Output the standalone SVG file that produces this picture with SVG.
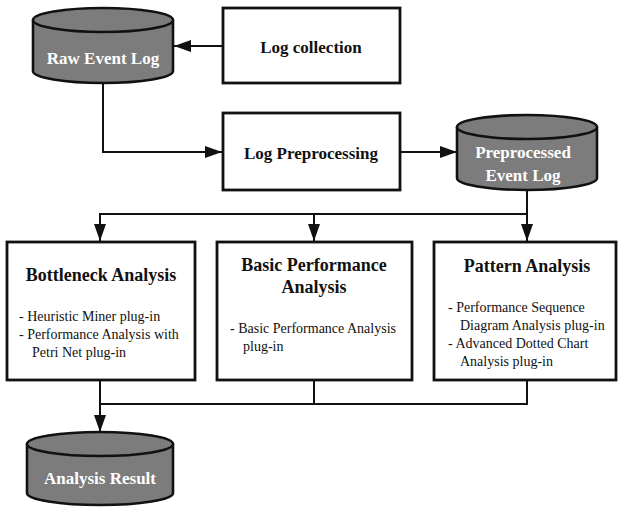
<svg xmlns="http://www.w3.org/2000/svg" width="618" height="507" viewBox="0 0 618 507">
<style>
.box{fill:#fff;stroke:#111;stroke-width:2.8}
.cyl{fill:#7c7c7c;stroke:#111;stroke-width:2.6}
.ln{fill:none;stroke:#111;stroke-width:2}
text{font-family:'Liberation Serif','Times New Roman',Times,serif;fill:#111}
.b{font-weight:bold}
.w{fill:#fff;font-weight:bold;font-size:17px}
.h{font-size:18px;font-weight:bold}
.s{font-size:14px}
</style>
<defs>
<marker id="ah" markerWidth="17" markerHeight="12" refX="17" refY="6" orient="auto" markerUnits="userSpaceOnUse">
<path d="M0,0 L17,6 L0,12 Z" fill="#111"/>
</marker>
</defs>
<g id="connectors">
<line class="ln" x1="223" y1="46" x2="174" y2="46" marker-end="url(#ah)"/>
<polyline class="ln" points="103,83 103,152 222,152" marker-end="url(#ah)"/>
<line class="ln" x1="400" y1="152" x2="457" y2="152" marker-end="url(#ah)"/>
<polyline class="ln" points="527,190 527,214 100,214 100,241" marker-end="url(#ah)"/>
<line class="ln" x1="314" y1="214" x2="314" y2="241" marker-end="url(#ah)"/>
<line class="ln" x1="527" y1="214" x2="527" y2="241" marker-end="url(#ah)"/>
<line class="ln" x1="100" y1="380" x2="100" y2="432" marker-end="url(#ah)"/>
<polyline class="ln" points="314,380 314,404 100,404"/>
<polyline class="ln" points="527,380 527,404 314,404"/>
</g>
<g id="raw-event-log">
<path class="cyl" d="M33,20 L33,71 A70,12 0 0 0 173,71 L173,20"/>
<ellipse class="cyl" cx="103" cy="20" rx="70" ry="12"/>
<text class="w" x="103" y="64" text-anchor="middle">Raw Event Log</text>
</g>
<g id="log-collection">
<rect class="box" x="223" y="8" width="177" height="75"/>
<text class="b" x="311" y="53" font-size="17" text-anchor="middle">Log collection</text>
</g>
<g id="log-preprocessing">
<rect class="box" x="223" y="113" width="177" height="77"/>
<text class="b" x="311" y="159" font-size="17" text-anchor="middle">Log Preprocessing</text>
</g>
<g id="preprocessed-event-log">
<path class="cyl" d="M457,127 L457,178 A70,12 0 0 0 597,178 L597,127"/>
<ellipse class="cyl" cx="527" cy="127" rx="70" ry="12"/>
<text class="w" x="523" y="158" text-anchor="middle">Preprocessed</text>
<text class="w" x="523" y="181" text-anchor="middle">Event Log</text>
</g>
<g id="bottleneck-analysis">
<rect class="box" x="7" y="242" width="188" height="138"/>
<text class="h" x="101" y="281" text-anchor="middle">Bottleneck Analysis</text>
<text class="s" x="19" y="321">- Heuristic Miner plug-in</text>
<text class="s" x="19" y="339">- Performance Analysis with</text>
<text class="s" x="32" y="357">Petri Net plug-in</text>
</g>
<g id="basic-performance-analysis">
<rect class="box" x="217" y="242" width="195" height="138"/>
<text class="h" x="314" y="271" text-anchor="middle">Basic Performance</text>
<text class="h" x="314" y="293" text-anchor="middle">Analysis</text>
<text class="s" x="230" y="333">- Basic Performance Analysis</text>
<text class="s" x="243" y="351">plug-in</text>
</g>
<g id="pattern-analysis">
<rect class="box" x="434" y="242" width="182" height="138"/>
<text class="h" x="527" y="272" text-anchor="middle">Pattern Analysis</text>
<text class="s" x="448" y="312">- Performance Sequence</text>
<text class="s" x="460" y="330">Diagram Analysis plug-in</text>
<text class="s" x="448" y="348">- Advanced Dotted Chart</text>
<text class="s" x="460" y="366">Analysis plug-in</text>
</g>
<g id="analysis-result">
<path class="cyl" d="M27,444 L27,493 A73,12 0 0 0 173,493 L173,444"/>
<ellipse class="cyl" cx="100" cy="444" rx="73" ry="12"/>
<text class="w" x="100" y="484" text-anchor="middle">Analysis Result</text>
</g>
</svg>
